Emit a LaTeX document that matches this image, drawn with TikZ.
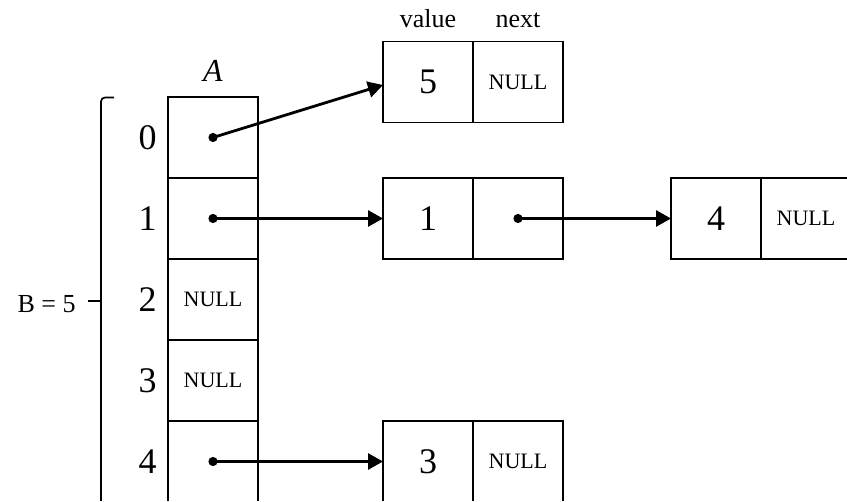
\documentclass[tikz,border=0pt]{standalone}
\usepackage{fontspec}
\setmainfont{Liberation Serif}
\usetikzlibrary{positioning,arrows.meta}

\tikzset{
	cell/.style={draw, line width=0.85pt, minimum width=45pt, minimum height=40.5pt, inner sep=0pt, outer sep=0pt, font=\fontsize{18}{18}\selectfont},
	nullcell/.style={cell, font=\fontsize{11}{11}\selectfont},
	index/.style={inner sep=0pt, font=\fontsize{18}{18}\selectfont},
	header/.style={inner sep=0pt, font=\fontsize{13}{13}\selectfont},
	pointer/.style={line width=1.4pt, -{Triangle[length=7.5pt,width=8pt]}},
}

\begin{document}
\begin{tikzpicture}[x=0.5pt, y=-0.5pt]

	\useasboundingbox (0,0) rectangle (847,502);
	\clip (0,0) rectangle (847,501);

	% the table A
	\foreach \i/\sty/\txt in {0/cell/{},1/cell/{},2/nullcell/NULL,3/nullcell/NULL,4/cell/{}}{
		\node[\sty] (a\i) at (213, {137.5+81*\i}) {\txt};
		\node[index, left=5.5pt of a\i] (idx\i) {\i};
	}
	\node[inner sep=0pt, above=7.5pt of a0, font=\fontsize{16}{16}\selectfont\itshape] (lblA) {A};

	% the lists
	\node[cell] (v5) at (428, 82) {5};
	\node[nullcell, right=0pt of v5] (n5) {NULL};
	\node[header, above=6.5pt of v5] (hval) {value};
	\node[header, above=6.5pt of n5] (hnext) {next};

	\node[cell] (v1) at (428, 218.5) {1};
	\node[cell, right=0pt of v1] (n1) {};
	\node[cell] (v4) at (716, 218.5) {4};
	\node[nullcell, right=0pt of v4] (n4) {NULL};

	\node[cell] (v3) at (428, 461.5) {3};
	\node[nullcell, right=0pt of v3] (n3) {NULL};

	% pointers
	\foreach \c in {a0,a1,a4,n1}
		\fill (\c) circle (2.3pt);
	\draw[pointer] (a0.center) -- ([yshift=-1.5pt]v5.west);
	\draw[pointer] (a1.center) -- (v1.west);
	\draw[pointer] (n1.center) -- (v4.west);
	\draw[pointer] (a4.center) -- (v3.west);

	% the bracket B
	\coordinate (brtop) at (114, 97.5);
	\coordinate (brmid) at (88, 301);
	\draw[line width=0.85pt, rounded corners=2pt] (brtop) -- (101, 97.5) -- (101, 520);
	\draw[line width=0.85pt] (brmid) -- (101, 301);
	\node[header, left=6pt of brmid, yshift=-1.5pt] (lblB) {B = 5};

\end{tikzpicture}
\end{document}
